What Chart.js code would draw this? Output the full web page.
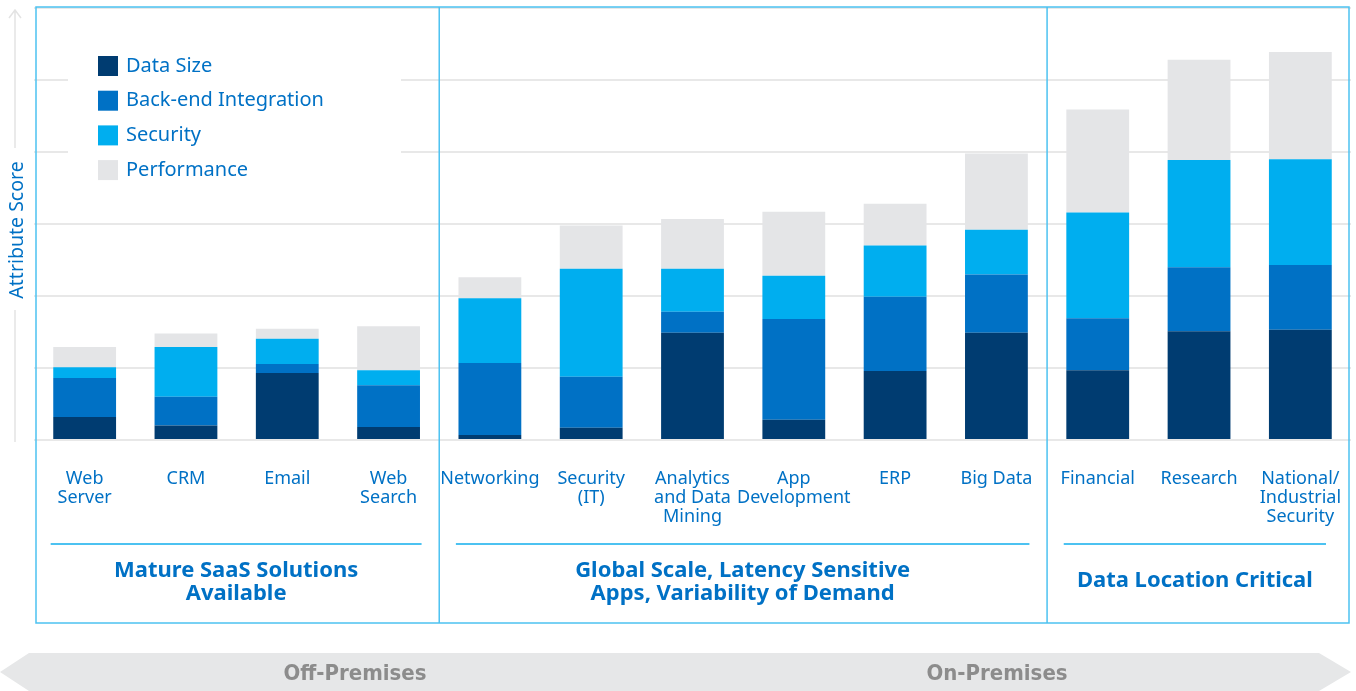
<!DOCTYPE html>
<html>
<head>
<meta charset="utf-8">
<script src="https://cdn.jsdelivr.net/npm/chart.js@4/dist/chart.umd.min.js"></script>
<style>
  html, body { margin: 0; padding: 0; background: #fff; }
  #wrap { width: 1356px; height: 691px; position: relative; }
</style>
</head>
<body>
<div id="wrap"><canvas id="chart" width="1356" height="691"></canvas></div>
<script>
const categories = [
  ['Web', 'Server'], 'CRM', 'Email', ['Web', 'Search'],
  'Networking', ['Security', '(IT)'], ['Analytics', 'and Data', 'Mining'], ['App', 'Development'], 'ERP', 'Big Data',
  'Financial', 'Research', ['National/', 'Industrial', 'Security']
];
const dataSize    = [3.2, 2.0, 9.3, 1.8,  0.7, 1.7, 14.9, 2.8, 9.6, 14.9,  9.7, 15.1, 15.3];
const backEnd     = [5.4, 4.0, 1.25, 5.8, 10.0, 7.1, 2.9, 14.0, 10.3, 8.1, 7.2, 8.9, 9.0];
const security    = [1.5, 6.9, 3.5, 2.1,  9.0, 15.0, 6.0, 6.0, 7.1, 6.2,  14.7, 14.9, 14.7];
const performance = [2.8, 1.9, 1.4, 6.1,  2.9, 6.0, 6.9, 8.9, 5.8, 10.6, 14.3, 13.9, 14.9];

const groups = [
  { title: ['Mature SaaS Solutions', 'Available'], from: 0, to: 3 },
  { title: ['Global Scale, Latency Sensitive', 'Apps, Variability of Demand'], from: 4, to: 9 },
  { title: ['Data Location Critical'], from: 10, to: 12 }
];
const sideLabels = ['Off-Premises', 'On-Premises'];

const BLUE = '#0071c5';
const FRAME = '#4cc2f1';
const FONT = '"Noto Sans", "Open Sans", sans-serif';

const decor = {
  id: 'decor',
  afterDraw(chart) {
    const c = chart.ctx;
    const x = chart.scales.x;
    const half = (x.getPixelForValue(1) - x.getPixelForValue(0)) / 2;
    c.save();

    // legend box covering the grid
    c.fillStyle = '#fff';
    c.fillRect(68, 40, 333, 150);
    c.font = '20px ' + FONT;
    c.textBaseline = 'middle';
    chart.data.datasets.forEach(function (ds, i) {
      const y = 66 + i * 34.7;
      c.fillStyle = ds.backgroundColor;
      c.fillRect(98, y - 10, 20, 20);
      c.fillStyle = BLUE;
      c.fillText(ds.label, 126, y);
    });

    // y axis arrow and title
    c.strokeStyle = '#e3e3e3';
    c.lineWidth = 1.5;
    c.beginPath();
    c.moveTo(15, 10); c.lineTo(15, 148);
    c.moveTo(15, 310); c.lineTo(15, 442);
    c.moveTo(9, 18); c.lineTo(15, 10); c.lineTo(21, 18);
    c.stroke();
    c.save();
    c.translate(17, 230);
    c.rotate(-Math.PI / 2);
    c.fillStyle = BLUE;
    c.font = '19.5px ' + FONT;
    c.textAlign = 'center';
    c.textBaseline = 'middle';
    c.fillText('Attribute Score', 0, 0);
    c.restore();

    // frame and dividers
    c.strokeStyle = FRAME;
    c.lineWidth = 1.5;
    c.strokeRect(36, 7, 1313, 616);
    groups.forEach(function (g, gi) {
      if (gi > 0) {
        const bx = x.getPixelForValue(g.from) - half;
        c.beginPath(); c.moveTo(bx, 7); c.lineTo(bx, 623); c.stroke();
      }
    });

    // group underlines and titles
    groups.forEach(function (g) {
      const l = x.getPixelForValue(g.from) - 34;
      const r = Math.min(x.getPixelForValue(g.to) + 33, 1326);
      c.strokeStyle = FRAME;
      c.lineWidth = 2;
      c.beginPath(); c.moveTo(l, 544); c.lineTo(r, 544); c.stroke();
      c.fillStyle = BLUE;
      c.font = 'bold 22px ' + FONT;
      c.textAlign = 'center';
      c.textBaseline = 'middle';
      const cx = (l + r) / 2;
      const y0 = g.title.length === 1 ? 581 : 571;
      g.title.forEach(function (t, k) { c.fillText(t, cx, y0 + k * 23); });
    });

    // bottom direction band
    c.fillStyle = '#e6e7e8';
    c.beginPath();
    c.moveTo(0, 672); c.lineTo(29, 653); c.lineTo(1319, 653);
    c.lineTo(1351, 672); c.lineTo(1319, 691); c.lineTo(29, 691);
    c.closePath();
    c.fill();
    c.fillStyle = '#8c8c8c';
    c.font = 'bold 22px "DejaVu Sans Condensed", "Liberation Sans Narrow", sans-serif';
    c.textAlign = 'center';
    c.textBaseline = 'middle';
    c.fillText(sideLabels[0], 355, 674);
    c.fillText(sideLabels[1], 997, 674);

    c.restore();
  }
};

new Chart(document.getElementById('chart').getContext('2d'), {
  type: 'bar',
  data: {
    labels: categories,
    datasets: [
      { label: 'Data Size', data: dataSize, backgroundColor: '#003c71' },
      { label: 'Back-end Integration', data: backEnd, backgroundColor: '#0071c5' },
      { label: 'Security', data: security, backgroundColor: '#00aeef' },
      { label: 'Performance', data: performance, backgroundColor: '#e4e5e7' }
    ]
  },
  options: {
    responsive: false,
    animation: false,
    layout: { padding: { left: 34, right: 5, top: 8, bottom: 0 } },
    datasets: { bar: { barPercentage: 0.62, categoryPercentage: 1, borderWidth: 0 } },
    plugins: { legend: { display: false }, tooltip: { enabled: false } },
    scales: {
      x: {
        stacked: true,
        grid: { display: false, drawTicks: false },
        border: { display: false },
        afterFit: function (scale) {
          scale.height = 251;
          scale.paddingLeft = 0;
          scale.paddingRight = 0;
        },
        ticks: {
          autoSkip: false, maxRotation: 0, padding: 29,
          color: BLUE,
          font: { family: FONT, size: 18, lineHeight: 1.06 }
        }
      },
      y: {
        stacked: true,
        min: 0, max: 60,
        grid: { color: '#e8e8e8', lineWidth: 2, drawTicks: false },
        border: { display: false },
        ticks: { display: false, stepSize: 10 }
      }
    }
  },
  plugins: [decor]
});
</script>
</body>
</html>
